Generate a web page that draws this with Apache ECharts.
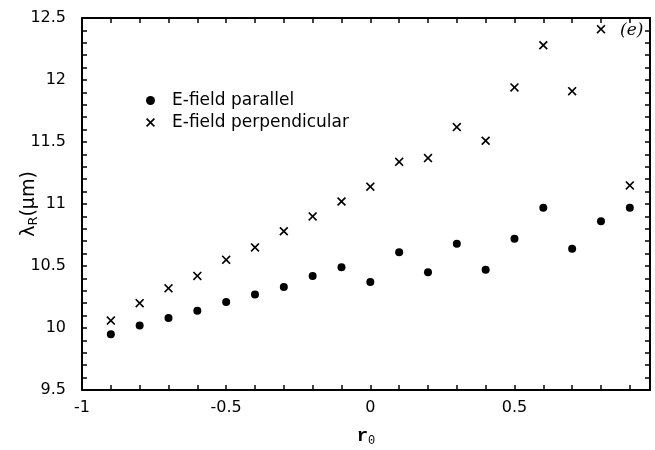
<!DOCTYPE html>
<html>
<head>
<meta charset="utf-8">
<script src="https://cdn.jsdelivr.net/npm/echarts@6/dist/echarts.min.js"></script>
<style>
  html, body { margin: 0; padding: 0; background: #fff; }
  #chart { width: 655px; height: 450px; }
</style>
</head>
<body>
<div id="chart"></div>
<script>
var xValues = [-0.9, -0.8, -0.7, -0.6, -0.5, -0.4, -0.3, -0.2, -0.1, 0,
               0.1, 0.2, 0.3, 0.4, 0.5, 0.6, 0.7, 0.8, 0.9];
var parallel = [9.95, 10.02, 10.08, 10.14, 10.21, 10.27, 10.33, 10.42, 10.49, 10.37,
                10.61, 10.45, 10.68, 10.47, 10.72, 10.97, 10.64, 10.86, 10.97];
var perpendicular = [10.06, 10.20, 10.32, 10.42, 10.55, 10.65, 10.78, 10.90, 11.02, 11.14,
                     11.34, 11.37, 11.62, 11.51, 11.94, 12.28, 11.91, 12.41, 11.15];
var seriesNames = ['E-field parallel', 'E-field perpendicular'];

var chartDom = document.getElementById('chart');
var myChart = echarts.init(chartDom);

// filled "x" shape so it works the same in plot and legend
var crossPath = 'path://M0,1.3L1.3,0L5,3.7L8.7,0L10,1.3L6.3,5L10,8.7L8.7,10L5,6.3L1.3,10L0,8.7L3.7,5Z';

function pairs(ys) {
    return xValues.map(function (x, i) { return [x, ys[i]]; });
}

function halfLabel(v) {
    if (Math.abs(v * 2 - Math.round(v * 2)) > 1e-6) return '';
    return String(Math.round(v * 2) / 2);
}

var tickFont = { fontFamily: 'DejaVu Sans', fontSize: 16, color: '#000' };
var frameLine = { show: true, onZero: false, lineStyle: { color: '#000', width: 2 } };
var tick = { show: true, inside: true, length: 5, lineStyle: { color: '#000', width: 1.5 } };

var option = {
    backgroundColor: '#fff',
    animation: false,
    grid: { left: 82, right: 5, top: 18, bottom: 60, outerBoundsMode: 'none', containLabel: false },
    legend: {
        data: seriesNames,
        orient: 'vertical',
        left: 146,
        top: 92,
        padding: 0,
        itemGap: 5,
        itemWidth: 9,
        itemHeight: 9,
        textStyle: { fontFamily: 'DejaVu Sans', fontSize: 17, color: '#000', padding: [0, 0, 0, 12] }
    },
    xAxis: [{
        type: 'value',
        min: -1,
        max: 0.97,
        interval: 0.1,
        name: '{r|r}{s|0}',
        nameLocation: 'middle',
        nameGap: 36,
        nameMoveOverlap: false,
        nameTextStyle: {
            rich: {
                r: { fontFamily: 'Liberation Mono', fontSize: 19, fontWeight: 'bold', color: '#000' },
                s: { fontFamily: 'Liberation Mono', fontSize: 12, color: '#000', verticalAlign: 'bottom', padding: [9, 0, 0, 0] }
            }
        },
        axisLine: frameLine,
        axisTick: tick,
        splitLine: { show: false },
        axisLabel: Object.assign({ margin: 10, showMaxLabel: false, formatter: halfLabel }, tickFont)
    }, {
        type: 'value',
        position: 'top',
        min: -1,
        max: 0.97,
        interval: 0.1,
        axisLine: frameLine,
        axisTick: tick,
        splitLine: { show: false },
        axisLabel: { show: false }
    }],
    yAxis: [{
        type: 'value',
        min: 9.5,
        max: 12.5,
        interval: 0.1,
        name: '\u03bb{s|R}(\u03bcm)',
        nameLocation: 'middle',
        nameRotate: 90,
        nameGap: 42,
        nameMoveOverlap: false,
        nameTextStyle: {
            fontFamily: 'DejaVu Sans', fontSize: 19, color: '#000',
            rich: {
                s: { fontFamily: 'DejaVu Sans', fontSize: 13, color: '#000', verticalAlign: 'bottom', padding: [9, 0, 0, 0] }
            }
        },
        axisLine: frameLine,
        axisTick: tick,
        splitLine: { show: false },
        axisLabel: Object.assign({ margin: 16, formatter: halfLabel }, tickFont)
    }, {
        type: 'value',
        position: 'right',
        min: 9.5,
        max: 12.5,
        interval: 0.1,
        axisLine: frameLine,
        axisTick: tick,
        splitLine: { show: false },
        axisLabel: { show: false }
    }],
    graphic: [{
        type: 'text',
        left: 620,
        top: 22,
        z: 100,
        style: { text: '(e)', font: 'italic 17px "DejaVu Serif"', fill: '#000' }
    }],
    series: [{
        name: seriesNames[0],
        type: 'scatter',
        symbol: 'circle',
        symbolSize: 8,
        itemStyle: { color: '#000', opacity: 1 },
        data: pairs(parallel)
    }, {
        name: seriesNames[1],
        type: 'scatter',
        symbol: crossPath,
        symbolSize: 9,
        itemStyle: { color: '#000', opacity: 1 },
        data: pairs(perpendicular)
    }]
};

myChart.setOption(option);
</script>
</body>
</html>
